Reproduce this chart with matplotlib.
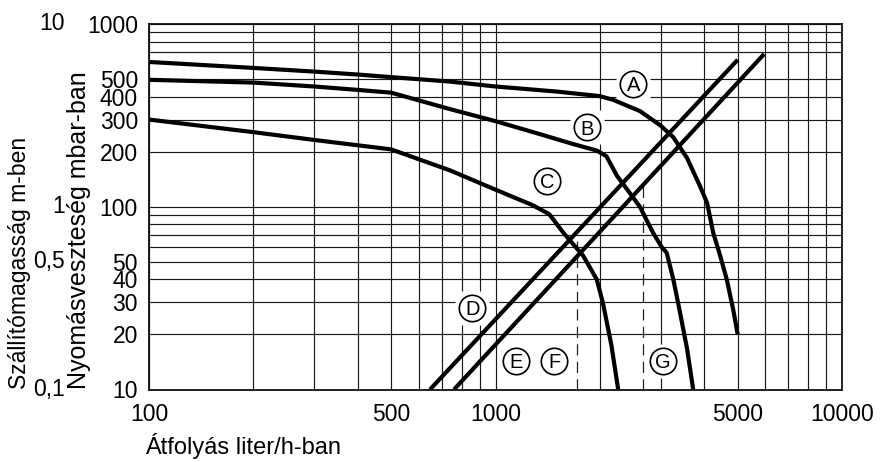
import matplotlib
matplotlib.use("Agg")
import matplotlib.pyplot as plt
from matplotlib.ticker import FixedLocator, NullFormatter

plt.rcParams['font.family'] = ['Liberation Sans', 'DejaVu Sans']

# ---- data (flow in l/h, pressure loss in mbar) ----
a_x = [100, 200, 300, 400, 500, 740, 1000, 1500, 2000, 2190, 2610, 2990, 3260, 3570, 3890, 4080, 4250, 4450, 4650, 4860, 5000]
a_y = [620, 575, 549, 529, 512, 484, 455, 427, 403, 384, 334, 279, 240, 185, 130, 105, 72, 54, 40, 27, 20]

b_x = [100, 200, 300, 400, 500, 740, 1000, 1340, 1680, 1960, 2090, 2240, 2440, 2610, 2850, 3020, 3120, 3260, 3400, 3570, 3720]
b_y = [495, 478, 455, 436, 421, 342, 294, 250, 220, 203, 189, 148, 119, 100, 72, 60, 56, 40, 27, 16.8, 10]

c_x = [100, 200, 300, 400, 500, 740, 1000, 1280, 1430, 1570, 1790, 1960, 2040, 2160, 2260]
c_y = [300, 256, 232, 217, 206, 158, 124, 102, 91, 72, 54, 40, 30, 17.5, 10]

d_x = [647, 5000]
d_y = [10, 637]

e_x = [759, 5960]
e_y = [10, 685]

dash_x = [1718, 2666]
dash_top = [65, 133]

label_names = ['A', 'B', 'C', 'D', 'E', 'F', 'G']
label_x = [2500, 1833, 1409, 857, 1145, 1476, 3046]
label_y = [470, 273, 139, 28, 14.4, 14.4, 14.4]

x_ticks = [100, 500, 1000, 5000, 10000]
x_ticklabels = ['100', '500', '1000', '5000', '10000']
y_ticks = [10, 20, 30, 40, 50, 100, 200, 300, 400, 500, 1000]
y_ticklabels = ['10', '20', '30', '40', '50', '100', '200', '300', '400', '500', '1000']
x_grid = [100, 200, 300, 400, 500, 600, 700, 800, 900, 1000,
          2000, 3000, 4000, 5000, 6000, 7000, 8000, 9000, 10000]
y_grid = [10, 20, 30, 40, 50, 60, 70, 80, 90, 100, 200, 300, 400, 500, 700, 800, 900, 1000]

m_values = [10, 1, 0.5, 0.1]
m_labels = ['10', '1', '0,5', '0,1']
mbar_per_m = 100

# ---- figure ----
fig = plt.figure(figsize=(8.83, 4.62), dpi=100)
ax = fig.add_axes([149/883, 1-389.5/462, 693/883, 365.5/462])
ax.set_xscale('log')
ax.set_yscale('log')
ax.set_xlim(100, 10000)
ax.set_ylim(10, 1000)

gkw = dict(color='#1a1a1a', lw=0.85, zorder=0.5)
for gx in x_grid:
    ax.axvline(gx, **gkw)
for gy in y_grid:
    ax.axhline(gy, **gkw)

# white patches behind labels (grid gaps)
ax.plot(label_x, label_y, ls='none', marker='s', ms=24, mfc='white', mec='none', zorder=1)

# dashed verticals
for dx, dt in zip(dash_x, dash_top):
    ax.plot([dx, dx], [10, dt], color='#222222', lw=0.9, dashes=(9, 5), zorder=1.5)

ckw = dict(color='black', lw=3.0, solid_joinstyle='round', solid_capstyle='butt', zorder=3)
ax.plot(a_x, a_y, **ckw)
ax.plot(b_x, b_y, **ckw)
ax.plot(c_x, c_y, **ckw)
ax.plot(d_x, d_y, **ckw)
ax.plot(e_x, e_y, **ckw)

# circled letters
ax.plot(label_x, label_y, ls='none', marker='o', ms=19, mfc='white', mec='black', mew=1.2, zorder=4)
for n, lx, ly in zip(label_names, label_x, label_y):
    ax.text(lx, ly, n, ha='center', va='center_baseline', fontsize=14.5, zorder=5)

ax.xaxis.set_major_locator(FixedLocator(x_ticks))
ax.set_xticklabels(x_ticklabels)
ax.xaxis.set_minor_formatter(NullFormatter())
ax.yaxis.set_major_locator(FixedLocator(y_ticks))
ax.set_yticklabels(y_ticklabels)
ax.yaxis.set_minor_formatter(NullFormatter())
ax.tick_params(which='both', length=0, labelsize=16.5)
ax.tick_params(axis='x', pad=10)
ax.tick_params(axis='y', pad=8)

for s in ax.spines.values():
    s.set_linewidth(1.3)
    s.set_color('#111111')
    s.set_zorder(6)

# meter scale
ytr = ax.get_yaxis_transform()
for mv, ml in zip(m_values, m_labels):
    ax.text(-0.121, mv * mbar_per_m, ml, transform=ytr, ha='right', va='center',
            fontsize=16.5, clip_on=False)

fig.text(20/883, 1-389/462, 'Szállítómagasság m-ben', rotation=90, ha='center', va='bottom', fontsize=16.5)
fig.text(79/883, 1-389/462, 'Nyomásveszteség mbar-ban', rotation=90, ha='center', va='bottom', fontsize=18)
fig.text(145/883, 1-446/462, 'Átfolyás liter/h-ban', ha='left', va='center', fontsize=17)

fig.savefig('out.png', dpi=100)
